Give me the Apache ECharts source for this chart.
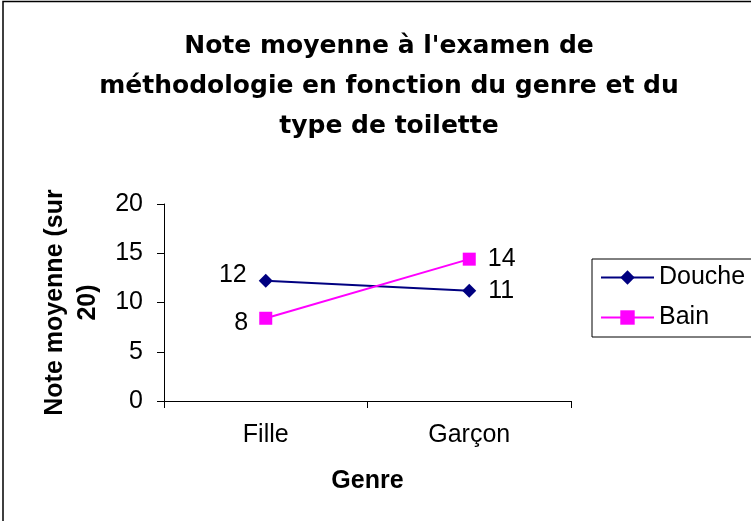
<!DOCTYPE html>
<html>
<head>
<meta charset="utf-8">
<script src="https://cdn.jsdelivr.net/npm/echarts@6/dist/echarts.min.js"></script>
<style>
html,body{margin:0;padding:0;background:#fff;}
#c{width:751px;height:521px;}
</style>
</head>
<body>
<div id="c"></div>
<script>
var categories = ['Fille', 'Garçon'];
var doucheValues = [12.2, 11.2];
var bainValues = [8.4, 14.4];
var seriesNames = ['Douche', 'Bain'];
var yTicks = [0, 5, 10, 15, 20];

var chart = echarts.init(document.getElementById('c'), null, {renderer: 'canvas'});
var F = 'Liberation Sans, Arial, sans-serif';
chart.setOption({
  animation: false,
  backgroundColor: '#fff',
  title: {
    text: "Note moyenne à l'examen de\nméthodologie en fonction du genre et du\ntype de toilette",
    left: 389,
    top: 26,
    textAlign: 'center',
    padding: 0,
    textStyle: {fontFamily: 'DejaVu Sans', fontWeight: 'bold', fontSize: 25, lineHeight: 40, color: '#000'}
  },
  graphic: [{
    type: 'rect', silent: true, z: 100,
    shape: {x: 3, y: 1.5, width: 1000, height: 1000},
    style: {fill: null, stroke: '#000', lineWidth: 1.5}
  }],
  legend: {
    data: seriesNames,
    orient: 'vertical',
    left: 592,
    top: 259,
    padding: [6, 12, 7, 8],
    itemGap: 15,
    itemWidth: 53,
    itemHeight: 18,
    borderColor: '#000',
    borderWidth: 1,
    textStyle: {fontFamily: F, fontSize: 25, color: '#000', lineHeight: 25}
  },
  grid: {left: 164, right: 180, top: 204, bottom: 120},
  xAxis: {
    type: 'category',
    data: categories,
    boundaryGap: true,
    name: 'Genre',
    nameLocation: 'middle',
    nameGap: 68,
    nameTextStyle: {fontFamily: F, fontWeight: 'bold', fontSize: 25, color: '#000'},
    axisLine: {lineStyle: {color: '#000', width: 1}},
    axisTick: {show: true, length: 7, lineStyle: {color: '#000'}},
    axisLabel: {fontFamily: F, fontSize: 25, color: '#000', margin: 22},
    splitLine: {show: false}
  },
  yAxis: {
    type: 'value',
    min: yTicks[0],
    max: yTicks[yTicks.length - 1],
    interval: yTicks[1] - yTicks[0],
    name: 'Note moyenne (sur\n20)',
    nameLocation: 'middle',
    nameGap: 57,
    nameTextStyle: {fontFamily: F, fontWeight: 'bold', fontSize: 25, color: '#000', lineHeight: 33},
    axisLine: {show: true, lineStyle: {color: '#000', width: 1}},
    axisTick: {show: true, length: 7, lineStyle: {color: '#000'}},
    axisLabel: {fontFamily: F, fontSize: 25, color: '#000', margin: 21},
    splitLine: {show: false}
  },
  series: [{
    name: seriesNames[0],
    type: 'line',
    color: '#000080',
    symbol: 'diamond',
    symbolSize: 14,
    lineStyle: {width: 2, color: '#000080'},
    itemStyle: {color: '#000080'},
    label: {
      show: true, fontFamily: F, fontSize: 25, color: '#000',
      formatter: function (p) { return Math.round(p.value); }
    },
    labelLayout: function (p) {
      return p.dataIndex === 0 ? {dy: -6} : {};
    },
    data: [
      {value: doucheValues[0], label: {position: 'left', distance: 12}},
      {value: doucheValues[1], label: {position: 'right', distance: 12}}
    ]
  }, {
    name: seriesNames[1],
    type: 'line',
    color: '#FF00FF',
    symbol: 'rect',
    symbolSize: 13,
    lineStyle: {width: 2, color: '#FF00FF'},
    itemStyle: {color: '#FF00FF'},
    label: {
      show: true, fontFamily: F, fontSize: 25, color: '#000',
      formatter: function (p) { return Math.round(p.value); }
    },
    labelLayout: function (p) {
      return p.dataIndex === 0 ? {dy: 5} : {};
    },
    data: [
      {value: bainValues[0], label: {position: 'left', distance: 11}},
      {value: bainValues[1], label: {position: 'right', distance: 12}}
    ]
  }]
});
</script>
</body>
</html>
